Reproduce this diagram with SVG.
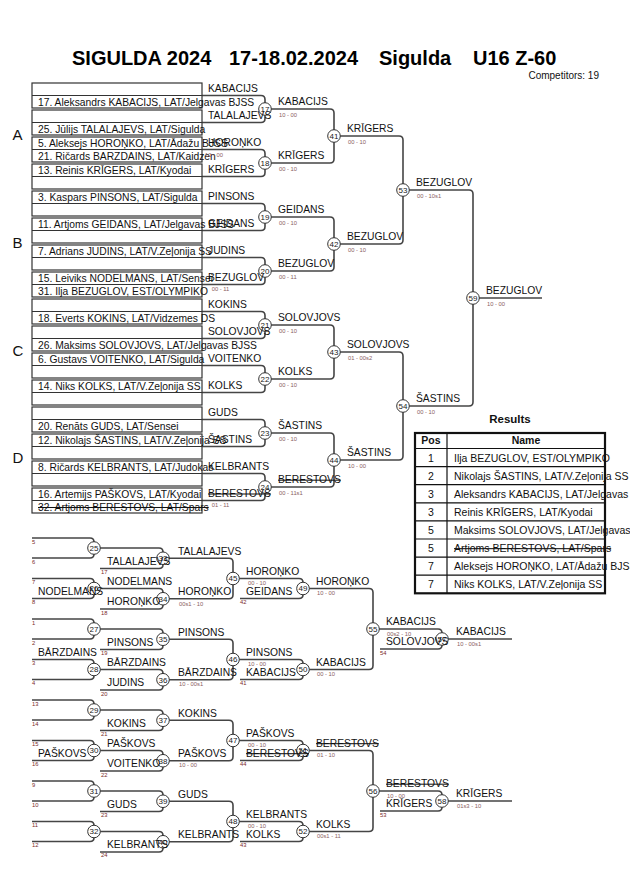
<svg xmlns="http://www.w3.org/2000/svg" width="630" height="891" viewBox="0 0 630 891">
<style>
text{font-family:"Liberation Sans",Arial,sans-serif}
.ln{fill:none;stroke:#454545;stroke-width:1.6}
.bx{fill:none;stroke:#333;stroke-width:1.2}
.m circle{fill:#fff;stroke:#333;stroke-width:1}
.m text{font-size:8px;fill:#222;text-anchor:middle}
.nm{font-size:10.3px;fill:#111}
.sc{font-size:5.8px;fill:#8a6060}
.sm{font-size:5.8px;fill:#7a2a2a}
.st{text-decoration:line-through}
.grp{font-size:15px;fill:#111}
.tb{fill:none;stroke:#111;stroke-width:1.2}
.tt{font-size:10.5px;fill:#111}
</style>
<rect width="630" height="891" fill="#fff"/>
<g id="title" font-weight="bold" font-size="20" fill="#000">
<text x="72" y="65">SIGULDA 2024</text>
<text x="229" y="65">17-18.02.2024</text>
<text x="379" y="65">Sigulda</text>
<text x="473" y="65">U16 Z-60</text>
</g>
<text x="599" y="79" font-size="10" text-anchor="end" fill="#111">Competitors: 19</text>

<g id="pools" class="grp">
<text x="12.5" y="140">A</text>
<text x="12.5" y="248">B</text>
<text x="12.5" y="356">C</text>
<text x="12.5" y="463">D</text>
</g>

<g id="connectors" class="ln">
<path d="M202 95.5H261Q265 95.5 265 99.5V118.5Q265 122.5 261 122.5H202"/>
<path d="M202 149.5H261Q265 149.5 265 153.5V172.5Q265 176.5 261 176.5H202"/>
<path d="M202 203.5H261Q265 203.5 265 207.5V226.5Q265 230.5 261 230.5H202"/>
<path d="M202 257.5H261Q265 257.5 265 261.5V280.5Q265 284.5 261 284.5H202"/>
<path d="M202 311.5H261Q265 311.5 265 315.5V334.5Q265 338.5 261 338.5H202"/>
<path d="M202 365.5H261Q265 365.5 265 369.5V388.5Q265 392.5 261 392.5H202"/>
<path d="M202 419.5H261Q265 419.5 265 423.5V442.5Q265 446.5 261 446.5H202"/>
<path d="M202 473.5H261Q265 473.5 265 477.5V496.5Q265 500.5 261 500.5H202"/>
<path d="M265 109H330Q334 109 334 113V159Q334 163 330 163H265"/>
<path d="M265 217H330Q334 217 334 221V267Q334 271 330 271H265"/>
<path d="M265 325H330Q334 325 334 329V375Q334 379 330 379H265"/>
<path d="M265 433H330Q334 433 334 437V483Q334 487 330 487H265"/>
<path d="M334 136H399Q403 136 403 140V240Q403 244 399 244H334"/>
<path d="M334 352H399Q403 352 403 356V456Q403 460 399 460H334"/>
<path d="M403 190H469Q473 190 473 194V402Q473 406 469 406H403"/>
<path d="M473 298H542"/>
<path d="M32 538H90Q94 538 94 542V554Q94 558 90 558H32"/>
<path d="M32 578.5H90Q94 578.5 94 582.5V594.5Q94 598.5 90 598.5H32"/>
<path d="M32 619H90Q94 619 94 623V635Q94 639 90 639H32"/>
<path d="M32 659.5H90Q94 659.5 94 663.5V675.5Q94 679.5 90 679.5H32"/>
<path d="M32 700H90Q94 700 94 704V716Q94 720 90 720H32"/>
<path d="M32 740.5H90Q94 740.5 94 744.5V756.5Q94 760.5 90 760.5H32"/>
<path d="M32 781H90Q94 781 94 785V797Q94 801 90 801H32"/>
<path d="M32 821.5H90Q94 821.5 94 825.5V837.5Q94 841.5 90 841.5H32"/>
<path d="M94 548H159Q163 548 163 552V564.5Q163 568.5 159 568.5H100"/>
<path d="M94 588.5H159Q163 588.5 163 592.5V605Q163 609 159 609H100"/>
<path d="M94 629H159Q163 629 163 633V645.5Q163 649.5 159 649.5H100"/>
<path d="M94 669.5H159Q163 669.5 163 673.5V686Q163 690 159 690H100"/>
<path d="M94 710H159Q163 710 163 714V726.5Q163 730.5 159 730.5H100"/>
<path d="M94 750.5H159Q163 750.5 163 754.5V767Q163 771 159 771H100"/>
<path d="M94 791H159Q163 791 163 795V807.5Q163 811.5 159 811.5H100"/>
<path d="M94 831.5H159Q163 831.5 163 835.5V848Q163 852 159 852H100"/>
<path d="M163 558.25H229Q233 558.25 233 562.25V594.75Q233 598.75 229 598.75H163"/>
<path d="M163 639.25H229Q233 639.25 233 643.25V675.75Q233 679.75 229 679.75H163"/>
<path d="M163 720.25H229Q233 720.25 233 724.25V756.75Q233 760.75 229 760.75H163"/>
<path d="M163 801.25H229Q233 801.25 233 805.25V837.75Q233 841.75 229 841.75H163"/>
<path d="M233 578.5H299Q303 578.5 303 582.5V594.5Q303 598.5 299 598.5H240"/>
<path d="M233 659.5H299Q303 659.5 303 663.5V675.5Q303 679.5 299 679.5H240"/>
<path d="M233 740.5H299Q303 740.5 303 744.5V756.5Q303 760.5 299 760.5H240"/>
<path d="M233 821.5H299Q303 821.5 303 825.5V837.5Q303 841.5 299 841.5H240"/>
<path d="M303 588.5H369Q373 588.5 373 592.5V665.5Q373 669.5 369 669.5H303"/>
<path d="M303 750.5H369Q373 750.5 373 754.5V827.5Q373 831.5 369 831.5H303"/>
<path d="M373 629H438Q442 629 442 633V645Q442 649 438 649H380"/>
<path d="M373 791H438Q442 791 442 795V807Q442 811 438 811H380"/>
<path d="M442 639H512"/>
<path d="M442 801H512"/>
</g>

<g id="entries">
<g id="pair0"><rect class="bx" x="32" y="83" width="170" height="25"/><path class="bx" d="M32 95.5H202"/><text class="nm" x="38" y="105.5">17. Aleksandrs KABACIJS, LAT/Jelgavas BJSS</text></g>
<g id="pair1"><rect class="bx" x="32" y="110" width="170" height="25"/><path class="bx" d="M32 122.5H202"/><text class="nm" x="38" y="132.5">25. Jūlijs TALALAJEVS, LAT/Sigulda</text></g>
<g id="pair2"><rect class="bx" x="32" y="137" width="170" height="25"/><path class="bx" d="M32 149.5H202"/><text class="nm" x="38" y="147">5. Aleksejs HOROŅKO, LAT/Ādažu BJSS</text><text class="nm" x="38" y="159.5">21. Ričards BARZDAINS, LAT/Kaidzen</text></g>
<g id="pair3"><rect class="bx" x="32" y="164" width="170" height="25"/><path class="bx" d="M32 176.5H202"/><text class="nm" x="38" y="174">13. Reinis KRĪGERS, LAT/Kyodai</text></g>
<g id="pair4"><rect class="bx" x="32" y="191" width="170" height="25"/><path class="bx" d="M32 203.5H202"/><text class="nm" x="38" y="201">3. Kaspars PINSONS, LAT/Sigulda</text></g>
<g id="pair5"><rect class="bx" x="32" y="218" width="170" height="25"/><path class="bx" d="M32 230.5H202"/><text class="nm" x="38" y="228">11. Artjoms GEIDANS, LAT/Jelgavas BJSS</text></g>
<g id="pair6"><rect class="bx" x="32" y="245" width="170" height="25"/><path class="bx" d="M32 257.5H202"/><text class="nm" x="38" y="255">7. Adrians JUDINS, LAT/V.Zeļonija SS</text></g>
<g id="pair7"><rect class="bx" x="32" y="272" width="170" height="25"/><path class="bx" d="M32 284.5H202"/><text class="nm" x="38" y="282">15. Leiviks NODELMANS, LAT/Sensei</text><text class="nm" x="38" y="294.5">31. Ilja BEZUGLOV, EST/OLYMPIKO</text></g>
<g id="pair8"><rect class="bx" x="32" y="299" width="170" height="25"/><path class="bx" d="M32 311.5H202"/><text class="nm" x="38" y="321.5">18. Everts KOKINS, LAT/Vidzemes DS</text></g>
<g id="pair9"><rect class="bx" x="32" y="326" width="170" height="25"/><path class="bx" d="M32 338.5H202"/><text class="nm" x="38" y="348.5">26. Maksims SOLOVJOVS, LAT/Jelgavas BJSS</text></g>
<g id="pair10"><rect class="bx" x="32" y="353" width="170" height="25"/><path class="bx" d="M32 365.5H202"/><text class="nm" x="38" y="363">6. Gustavs VOITENKO, LAT/Sigulda</text></g>
<g id="pair11"><rect class="bx" x="32" y="380" width="170" height="25"/><path class="bx" d="M32 392.5H202"/><text class="nm" x="38" y="390">14. Niks KOLKS, LAT/V.Zeļonija SS</text></g>
<g id="pair12"><rect class="bx" x="32" y="407" width="170" height="25"/><path class="bx" d="M32 419.5H202"/><text class="nm" x="38" y="429.5">20. Renāts GUDS, LAT/Sensei</text></g>
<g id="pair13"><rect class="bx" x="32" y="434" width="170" height="25"/><path class="bx" d="M32 446.5H202"/><text class="nm" x="38" y="444">12. Nikolajs ŠASTINS, LAT/V.Zeļonija SS</text></g>
<g id="pair14"><rect class="bx" x="32" y="461" width="170" height="25"/><path class="bx" d="M32 473.5H202"/><text class="nm" x="38" y="471">8. Ričards KELBRANTS, LAT/Judokas</text></g>
<g id="pair15"><rect class="bx" x="32" y="488" width="170" height="25"/><path class="bx" d="M32 500.5H202"/><text class="nm" x="38" y="498">16. Artemijs PAŠKOVS, LAT/Kyodai</text><text class="nm st" x="38" y="510.5">32. Artjoms BERESTOVS, LAT/Spars</text></g>
</g>

<g id="matches" class="m">
<g id="m17"><circle cx="265" cy="109" r="6.3"/><text x="265" y="111.8">17</text></g>
<g id="m18"><circle cx="265" cy="163" r="6.3"/><text x="265" y="165.8">18</text></g>
<g id="m19"><circle cx="265" cy="217" r="6.3"/><text x="265" y="219.8">19</text></g>
<g id="m20"><circle cx="265" cy="271" r="6.3"/><text x="265" y="273.8">20</text></g>
<g id="m21"><circle cx="265" cy="325" r="6.3"/><text x="265" y="327.8">21</text></g>
<g id="m22"><circle cx="265" cy="379" r="6.3"/><text x="265" y="381.8">22</text></g>
<g id="m23"><circle cx="265" cy="433" r="6.3"/><text x="265" y="435.8">23</text></g>
<g id="m24"><circle cx="265" cy="487" r="6.3"/><text x="265" y="489.8">24</text></g>
<g id="m41"><circle cx="334" cy="136" r="6.3"/><text x="334" y="138.8">41</text></g>
<g id="m42"><circle cx="334" cy="244" r="6.3"/><text x="334" y="246.8">42</text></g>
<g id="m43"><circle cx="334" cy="352" r="6.3"/><text x="334" y="354.8">43</text></g>
<g id="m44"><circle cx="334" cy="460" r="6.3"/><text x="334" y="462.8">44</text></g>
<g id="m53"><circle cx="403" cy="190" r="6.3"/><text x="403" y="192.8">53</text></g>
<g id="m54"><circle cx="403" cy="406" r="6.3"/><text x="403" y="408.8">54</text></g>
<g id="m59"><circle cx="473" cy="298" r="6.3"/><text x="473" y="300.8">59</text></g>
<g id="m25"><circle cx="94" cy="548" r="6.3"/><text x="94" y="550.8">25</text></g>
<g id="m26"><circle cx="94" cy="588.5" r="6.3"/><text x="94" y="591.3">26</text></g>
<g id="m27"><circle cx="94" cy="629" r="6.3"/><text x="94" y="631.8">27</text></g>
<g id="m28"><circle cx="94" cy="669.5" r="6.3"/><text x="94" y="672.3">28</text></g>
<g id="m29"><circle cx="94" cy="710" r="6.3"/><text x="94" y="712.8">29</text></g>
<g id="m30"><circle cx="94" cy="750.5" r="6.3"/><text x="94" y="753.3">30</text></g>
<g id="m31"><circle cx="94" cy="791" r="6.3"/><text x="94" y="793.8">31</text></g>
<g id="m32"><circle cx="94" cy="831.5" r="6.3"/><text x="94" y="834.3">32</text></g>
<g id="m33"><circle cx="163" cy="558.25" r="6.3"/><text x="163" y="561">33</text></g>
<g id="m34"><circle cx="163" cy="598.75" r="6.3"/><text x="163" y="601.5">34</text></g>
<g id="m35"><circle cx="163" cy="639.25" r="6.3"/><text x="163" y="642">35</text></g>
<g id="m36"><circle cx="163" cy="679.75" r="6.3"/><text x="163" y="682.5">36</text></g>
<g id="m37"><circle cx="163" cy="720.25" r="6.3"/><text x="163" y="723">37</text></g>
<g id="m38"><circle cx="163" cy="760.75" r="6.3"/><text x="163" y="763.5">38</text></g>
<g id="m39"><circle cx="163" cy="801.25" r="6.3"/><text x="163" y="804">39</text></g>
<g id="m40"><circle cx="163" cy="841.75" r="6.3"/><text x="163" y="844.5">40</text></g>
<g id="m45"><circle cx="233" cy="578.5" r="6.3"/><text x="233" y="581.3">45</text></g>
<g id="m46"><circle cx="233" cy="659.5" r="6.3"/><text x="233" y="662.3">46</text></g>
<g id="m47"><circle cx="233" cy="740.5" r="6.3"/><text x="233" y="743.3">47</text></g>
<g id="m48"><circle cx="233" cy="821.5" r="6.3"/><text x="233" y="824.3">48</text></g>
<g id="m49"><circle cx="303" cy="588.5" r="6.3"/><text x="303" y="591.3">49</text></g>
<g id="m50"><circle cx="303" cy="669.5" r="6.3"/><text x="303" y="672.3">50</text></g>
<g id="m51"><circle cx="303" cy="750.5" r="6.3"/><text x="303" y="753.3">51</text></g>
<g id="m52"><circle cx="303" cy="831.5" r="6.3"/><text x="303" y="834.3">52</text></g>
<g id="m55"><circle cx="373" cy="629" r="6.3"/><text x="373" y="631.8">55</text></g>
<g id="m56"><circle cx="373" cy="791" r="6.3"/><text x="373" y="793.8">56</text></g>
<g id="m57"><circle cx="442" cy="639" r="6.3"/><text x="442" y="641.8">57</text></g>
<g id="m58"><circle cx="442" cy="801" r="6.3"/><text x="442" y="803.8">58</text></g>
</g>

<g id="names" class="nm">
<text x="208" y="92">KABACIJS</text>
<text x="208" y="119">TALALAJEVS</text>
<text x="208" y="146">HOROŅKO</text>
<text x="208" y="173">KRĪGERS</text>
<text x="208" y="200">PINSONS</text>
<text x="208" y="227">GEIDANS</text>
<text x="208" y="254">JUDINS</text>
<text x="208" y="281">BEZUGLOV</text>
<text x="208" y="308">KOKINS</text>
<text x="208" y="335">SOLOVJOVS</text>
<text x="208" y="362">VOITENKO</text>
<text x="208" y="389">KOLKS</text>
<text x="208" y="416">GUDS</text>
<text x="208" y="443">ŠASTINS</text>
<text x="208" y="470">KELBRANTS</text>
<text class="st" x="208" y="497">BERESTOVS</text>
<text x="278" y="105.2">KABACIJS</text>
<text x="278" y="159.2">KRĪGERS</text>
<text x="278" y="213.2">GEIDANS</text>
<text x="278" y="267.2">BEZUGLOV</text>
<text x="278" y="321.2">SOLOVJOVS</text>
<text x="278" y="375.2">KOLKS</text>
<text x="278" y="429.2">ŠASTINS</text>
<text class="st" x="278" y="483.2">BERESTOVS</text>
<text x="347" y="132.2">KRĪGERS</text>
<text x="347" y="240.2">BEZUGLOV</text>
<text x="347" y="348.2">SOLOVJOVS</text>
<text x="347" y="456.2">ŠASTINS</text>
<text x="416" y="186.2">BEZUGLOV</text>
<text x="416" y="402.2">ŠASTINS</text>
<text x="486" y="294.2">BEZUGLOV</text>
<text x="38" y="595">NODELMANS</text>
<text x="38" y="655.5">BĀRZDAINS</text>
<text x="38" y="756.5">PAŠKOVS</text>
<text x="107" y="564.7">TALALAJEVS</text>
<text x="107" y="584.7">NODELMANS</text>
<text x="107" y="605.2">HOROŅKO</text>
<text x="107" y="645.7">PINSONS</text>
<text x="107" y="665.7">BĀRZDAINS</text>
<text x="107" y="686.2">JUDINS</text>
<text x="107" y="726.7">KOKINS</text>
<text x="107" y="746.7">PAŠKOVS</text>
<text x="107" y="767.2">VOITENKO</text>
<text x="107" y="807.7">GUDS</text>
<text x="107" y="848.2">KELBRANTS</text>
<text x="178" y="554.5">TALALAJEVS</text>
<text x="178" y="595">HOROŅKO</text>
<text x="178" y="635.5">PINSONS</text>
<text x="178" y="676">BĀRZDAINS</text>
<text x="178" y="716.5">KOKINS</text>
<text x="178" y="757">PAŠKOVS</text>
<text x="178" y="797.5">GUDS</text>
<text x="178" y="838">KELBRANTS</text>
<text x="246" y="574.7">HOROŅKO</text>
<text x="246" y="594.7">GEIDANS</text>
<text x="246" y="655.7">PINSONS</text>
<text x="246" y="675.7">KABACIJS</text>
<text x="246" y="736.7">PAŠKOVS</text>
<text class="st" x="246" y="756.7">BERESTOVS</text>
<text x="246" y="817.7">KELBRANTS</text>
<text x="246" y="837.7">KOLKS</text>
<text x="316" y="584.7">HOROŅKO</text>
<text x="316" y="665.7">KABACIJS</text>
<text class="st" x="316" y="746.7">BERESTOVS</text>
<text x="316" y="827.7">KOLKS</text>
<text x="386" y="625.2">KABACIJS</text>
<text x="386" y="645.2">SOLOVJOVS</text>
<text class="st" x="386" y="787.2">BERESTOVS</text>
<text x="386" y="807.2">KRĪGERS</text>
<text x="456" y="635.2">KABACIJS</text>
<text x="456" y="797.2">KRĪGERS</text>
</g>

<g id="scores" class="sc">
<text x="205" y="157">10 - 00</text>
<text x="211.7" y="291">00 - 11</text>
<text x="211.7" y="507">01 - 11</text>
<text x="279" y="116.5">10 - 00</text>
<text x="279" y="170.5">00 - 10</text>
<text x="279" y="224.5">00 - 10</text>
<text x="279" y="278.5">00 - 11</text>
<text x="279" y="332.5">00 - 10</text>
<text x="279" y="386.5">00 - 10</text>
<text x="279" y="440.5">00 - 10</text>
<text x="279" y="494.5">00 - 11s1</text>
<text x="348" y="143.5">00 - 10</text>
<text x="348" y="251.5">00 - 10</text>
<text x="348" y="359.5">01 - 00s2</text>
<text x="348" y="467.5">10 - 00</text>
<text x="417" y="197.5">00 - 10s1</text>
<text x="417" y="413.5">00 - 10</text>
<text x="487" y="305.5">10 - 00</text>
<text x="179" y="605.5">00s1 - 10</text>
<text x="179" y="686">10 - 00s1</text>
<text x="179" y="767">10 - 00</text>
<text x="248" y="585">00 - 10</text>
<text x="248" y="666">10 - 00</text>
<text x="248" y="747">00 - 10</text>
<text x="248" y="828">00 - 10</text>
<text x="317" y="595">10 - 00</text>
<text x="317" y="676">00 - 10</text>
<text x="317" y="757">01 - 10</text>
<text x="317" y="838">00s1 - 11</text>
<text x="387" y="635.5">00s2 - 10</text>
<text x="387" y="797.5">10 - 00</text>
<text x="457" y="645.5">10 - 00s1</text>
<text x="457" y="807.5">01s3 - 10</text>
</g>

<g id="slots" class="sm">
<text x="32" y="543.5">5</text><text x="32" y="563.5">6</text>
<text x="32" y="584">7</text><text x="32" y="604">8</text>
<text x="32" y="624.5">1</text><text x="32" y="644.5">2</text>
<text x="32" y="665">3</text><text x="32" y="685">4</text>
<text x="32" y="705.5">13</text><text x="32" y="725.5">14</text>
<text x="32" y="746">15</text><text x="32" y="766">16</text>
<text x="32" y="786.5">9</text><text x="32" y="806.5">10</text>
<text x="32" y="827">11</text><text x="32" y="847">12</text>
<text x="101" y="574">17</text><text x="101" y="614.5">18</text>
<text x="101" y="655">19</text><text x="101" y="695.5">20</text>
<text x="101" y="736">21</text><text x="101" y="776.5">22</text>
<text x="101" y="817">23</text><text x="101" y="857">24</text>
<text x="240" y="604">42</text><text x="240" y="685">41</text>
<text x="240" y="766">44</text><text x="240" y="847">43</text>
<text x="380" y="654.5">54</text><text x="380" y="816.5">53</text>
</g>

<g id="results">
<text x="510" y="423" font-size="11.5" font-weight="bold" text-anchor="middle" fill="#111">Results</text>
<path class="tb" d="M415 448.5H605M415 466.6H605M415 484.7H605M415 502.8H605M415 520.9H605M415 539H605M415 557.1H605M415 575.2H605M447 433V593.3"/>
<g class="tt">
<text x="431" y="444" font-weight="bold" text-anchor="middle">Pos</text>
<text x="526" y="444" font-weight="bold" text-anchor="middle">Name</text>
<text x="431" y="461.5" text-anchor="middle">1</text><text x="454" y="461.5">Ilja BEZUGLOV, EST/OLYMPIKO</text>
<text x="431" y="479.6" text-anchor="middle">2</text><text x="454" y="479.6">Nikolajs ŠASTINS, LAT/V.Zeļonija SS</text>
<text x="431" y="497.7" text-anchor="middle">3</text><text x="454" y="497.7">Aleksandrs KABACIJS, LAT/Jelgavas BJSS</text>
<text x="431" y="515.8" text-anchor="middle">3</text><text x="454" y="515.8">Reinis KRĪGERS, LAT/Kyodai</text>
<text x="431" y="533.9" text-anchor="middle">5</text><text x="454" y="533.9">Maksims SOLOVJOVS, LAT/Jelgavas BJSS</text>
<text x="431" y="552" text-anchor="middle">5</text><text class="st" x="454" y="552">Artjoms BERESTOVS, LAT/Spars</text>
<text x="431" y="570.1" text-anchor="middle">7</text><text x="454" y="570.1">Aleksejs HOROŅKO, LAT/Ādažu BJSS</text>
<text x="431" y="588.2" text-anchor="middle">7</text><text x="454" y="588.2">Niks KOLKS, LAT/V.Zeļonija SS</text>
</g>
<rect x="415" y="433" width="190" height="160.3" fill="none" stroke="#111" stroke-width="2.2"/>
</g>
</svg>
